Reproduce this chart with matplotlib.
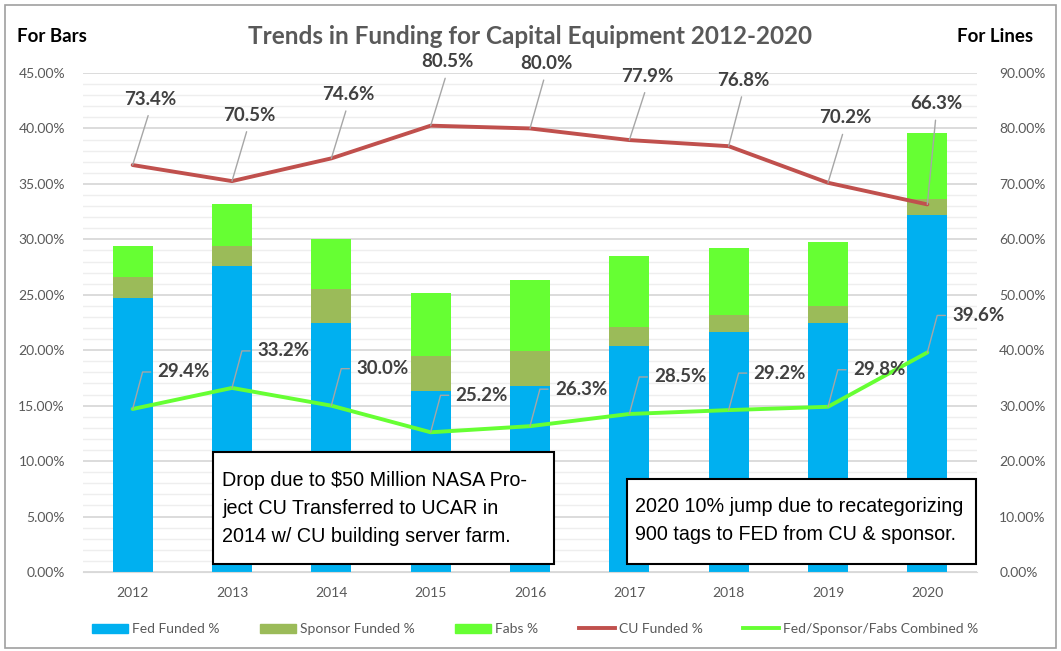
import numpy as np
import matplotlib.pyplot as plt
from matplotlib.ticker import MultipleLocator, FuncFormatter
from matplotlib.patches import Rectangle, Patch
from matplotlib.lines import Line2D

plt.rcParams['font.family'] = ['Lato', 'DejaVu Sans']

# data
years = ['2012', '2013', '2014', '2015', '2016', '2017', '2018', '2019', '2020']
fed = [24.7, 27.6, 22.5, 16.3, 16.8, 20.4, 21.6, 22.5, 32.2]
sponsor = [1.9, 1.8, 3.0, 3.2, 3.1, 1.7, 1.6, 1.5, 1.4]
fabs = [2.8, 3.8, 4.5, 5.7, 6.4, 6.4, 6.0, 5.8, 6.0]
cu_funded = [73.4, 70.5, 74.6, 80.5, 80.0, 77.9, 76.8, 70.2, 66.3]
combined = [29.4, 33.2, 30.0, 25.2, 26.3, 28.5, 29.2, 29.8, 39.6]

# label offsets in pixels (dx, dy) from the point
cu_offsets = [(18, 66), (17, 66), (17, 64), (17, 64), (16, 65), (18, 64), (15, 66), (17, 65), (9, 101)]

W, H = 1061, 651
fig = plt.figure(figsize=(W / 100, H / 100), dpi=100)

# plot area in pixels
left, right, top, bottom = 83, 977, 73, 572
ax = fig.add_axes([left / W, 1 - bottom / H, (right - left) / W, (bottom - top) / H])

x = np.arange(len(years))
fed = np.array(fed)
sponsor = np.array(sponsor)
fabs = np.array(fabs)

c_fed, c_sp, c_fabs, c_cu = '#00b0f0', '#9bbb59', '#66ff33', '#c0504d'
ax.bar(x, fed, width=0.4, color=c_fed, zorder=2)
ax.bar(x, sponsor, width=0.4, bottom=fed, color=c_sp, zorder=2)
ax.bar(x, fabs, width=0.4, bottom=fed + sponsor, color=c_fabs, zorder=2)

ax.set_xlim(-0.5, len(years) - 0.5)
ax.set_ylim(0, 45)
ax.set_xticks(x)
ax.set_xticklabels(years)
ax.yaxis.set_major_locator(MultipleLocator(5))
ax.yaxis.set_minor_locator(MultipleLocator(1))
ax.yaxis.set_major_formatter(FuncFormatter(lambda v, p: f'{v:.2f}%'))
ax.grid(which='major', axis='y', color='#d9d9d9', lw=1.3, zorder=0)
ax.grid(which='minor', axis='y', color='#eeeeee', lw=1.0, zorder=0)
ax.set_axisbelow(True)
for s in ['top', 'left', 'right']:
    ax.spines[s].set_visible(False)
ax.spines['bottom'].set_color('#d9d9d9')
ax.tick_params(which='both', length=0, labelsize=10, labelcolor='#595959')
ax.tick_params(axis='y', pad=13)
ax.tick_params(axis='x', pad=11)

ax2 = ax.twinx()
ax2.set_ylim(0, 90)
ax2.yaxis.set_major_locator(MultipleLocator(10))
ax2.yaxis.set_major_formatter(FuncFormatter(lambda v, p: f'{v:.2f}%'))
ax2.tick_params(length=0, labelsize=10, labelcolor='#595959', pad=16)
for s in ax2.spines.values():
    s.set_visible(False)

ax2.plot(x, cu_funded, color=c_cu, lw=2.8, solid_capstyle='round', zorder=3)
ax2.plot(x, combined, color=c_fabs, lw=2.8, solid_capstyle='round', zorder=3)

lbl = dict(fontsize=13.5, fontweight='bold', color='#404040')
for i, v in enumerate(cu_funded):
    dx, dy = cu_offsets[i]
    ax2.annotate(f'{v:.1f}%', xy=(x[i], v), xytext=(dx, dy), textcoords='offset pixels',
                 ha='center', va='center', zorder=5,
                 arrowprops=dict(arrowstyle='-', color='#a6a6a6', lw=1, shrinkA=4, shrinkB=0,
                                 relpos=(0.5, 0)), **lbl)

for i, v in enumerate(combined):
    ax2.annotate(f'{v:.1f}%', xy=(x[i], v), xytext=(25, 37), textcoords='offset pixels',
                 ha='left', va='center', zorder=5,
                 arrowprops=dict(arrowstyle='-', color='#a6a6a6', lw=1, shrinkA=3, shrinkB=0,
                                 relpos=(0, 0.5),
                                 connectionstyle='angle,angleA=0,angleB=75,rad=0'), **lbl)

# titles
fig.text(530 / W, 1 - 37 / H, 'Trends in Funding for Capital Equipment 2012-2020',
         ha='center', va='center', fontsize=17.5, fontweight='bold', color='#595959')
fig.text(17 / W, 1 - 37 / H, 'For Bars', ha='left', va='center', fontsize=13.5,
         fontweight='bold', color='black')
fig.text(1033 / W, 1 - 37 / H, 'For Lines', ha='right', va='center', fontsize=13.5,
         fontweight='bold', color='black')

# note boxes
def note(x0, y0, x1, y1, tx, ty, text):
    fig.patches.append(Rectangle((x0 / W, 1 - y1 / H), (x1 - x0) / W, (y1 - y0) / H,
                                 transform=fig.transFigure, fc='white', ec='black',
                                 lw=1.5, zorder=10))
    fig.text(tx / W, 1 - ty / H, text, ha='left', va='center', fontsize=14.2,
             family='Liberation Sans', color='black', linespacing=1.6, zorder=11)

note(213, 452, 554, 564, 222, 509,
     'Drop due to $50 Million NASA Pro-\nject CU Transferred to UCAR in\n2014 w/ CU building server farm.')
note(627, 479, 976, 564, 635, 521,
     '2020 10% jump due to recategorizing\n900 tags to FED from CU & sponsor.')

# legend
handles = [Patch(color=c_fed), Patch(color=c_sp), Patch(color=c_fabs),
           Line2D([], [], color=c_cu, lw=2.8), Line2D([], [], color=c_fabs, lw=2.8)]
labels = ['Fed Funded %', 'Sponsor Funded %', 'Fabs %', 'CU Funded %',
          'Fed/Sponsor/Fabs Combined %']
fig.legend(handles, labels, loc='center', bbox_to_anchor=(535 / W, 1 - 629 / H), ncol=5,
           frameon=False, fontsize=10, labelcolor='#595959', handlelength=2.6,
           handleheight=0.6, handletextpad=0.3, columnspacing=2.9)

# outer border
fig.patches.append(Rectangle((5 / W, 3 / H), (W - 10) / W, (H - 8) / H,
                             transform=fig.transFigure, fill=False, ec='#a0a0a0', lw=1.2))

fig.savefig('out.png', dpi=100)
